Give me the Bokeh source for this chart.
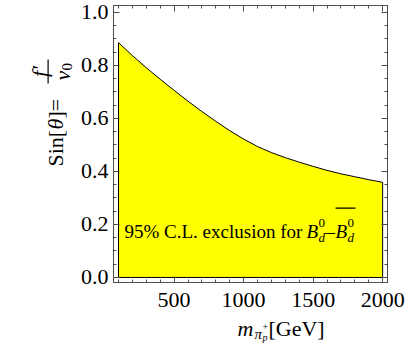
import math
from bokeh.plotting import figure
from bokeh.layouts import row, column
from bokeh.models import (Label, BoxAnnotation, LinearAxis, FixedTicker,
                          PrintfTickFormatter, Range1d)
from bokeh.embed import file_html
from bokeh.resources import INLINE

# ---- data ----
mass = [100, 200, 300, 400, 500, 600, 700, 800, 900, 1000,
        1100, 1200, 1300, 1400, 1500, 1600, 1700, 1800, 1900, 2000]
sin_theta = [0.886, 0.837, 0.791, 0.748, 0.706, 0.665, 0.626, 0.589, 0.554, 0.522,
             0.494, 0.471, 0.452, 0.435, 0.419, 0.404, 0.391, 0.380, 0.369, 0.359]
x_major = [500, 1000, 1500, 2000]
x_minor = list(range(100, 2001, 100))
y_major = [0.0, 0.2, 0.4, 0.6, 0.8, 1.0]
y_minor = [round(i * 0.05, 2) for i in range(0, 21)]

X0, X1 = 64, 2035
Y0, Y1 = -0.019, 1.026
FONT = "Liberation Serif"
FRAME = "#4d4d4d"
W, H = 411, 344
YW = 77          # width of the strip holding the y title
XH = 26          # layout height taken by the x-title strip
XO = 14          # the x-title strip overlaps the plot by this much
FL, FR, FT, FB = 111, 387, 5, 282   # frame edges in page pixels
PW, PH = W - YW, H - XH

p = figure(width=PW, height=PH, x_range=Range1d(X0, X1), y_range=Range1d(Y0, Y1),
           output_backend="svg", toolbar_location=None,
           min_border_left=FL - YW, min_border_right=W - FR, min_border_top=FT,
           min_border_bottom=PH - FB)
p.grid.visible = False
p.outline_line_color = FRAME
p.background_fill_color = "white"

# exclusion region
poly_x = [mass[0]] + mass + [mass[-1]]
poly_y = [0.0] + sin_theta + [0.0]
p.patch(poly_x, poly_y, fill_color="#FFFF00", line_color="black", line_width=1)


def style_axis(ax, ticks, minor, show_labels):
    ax.ticker = FixedTicker(ticks=ticks, minor_ticks=minor)
    ax.major_tick_in = 6
    ax.major_tick_out = 0
    ax.minor_tick_in = 3
    ax.minor_tick_out = 0
    ax.axis_line_color = FRAME
    ax.major_tick_line_color = FRAME
    ax.minor_tick_line_color = FRAME
    ax.axis_label = None
    if show_labels:
        ax.major_label_text_font = FONT
        ax.major_label_text_font_size = "22px"
        ax.major_label_text_color = "black"
    else:
        ax.major_label_overrides = {t: "" for t in ticks}
        ax.major_label_text_font_size = "1px"
        ax.major_label_standoff = 0


style_axis(p.xaxis[0], x_major, x_minor, True)
p.xaxis[0].major_label_standoff = 10
style_axis(p.yaxis[0], y_major, y_minor, True)
p.yaxis[0].major_label_standoff = 5
p.yaxis[0].formatter = PrintfTickFormatter(format="%.1f")

top = LinearAxis()
style_axis(top, x_major, x_minor, False)
p.add_layout(top, "above")
right = LinearAxis()
style_axis(right, y_major, y_minor, False)
p.add_layout(right, "right")


def strip(w, h, **kw):
    f = figure(width=w, height=h, x_range=Range1d(0, 1), y_range=Range1d(0, 1),
               output_backend="svg", toolbar_location=None, min_border=0,
               x_axis_type=None, y_axis_type=None, **kw)
    f.grid.visible = False
    f.outline_line_color = None
    f.background_fill_alpha = 0
    f.border_fill_alpha = 0
    return f


yfig = strip(YW, PH)                                   # page x 0..YW, y 0..PH
xfig = strip(W, XH + XO, margin=(-XO, 0, 0, 0))        # page x 0..W, y PH-XO..H


# text pieces: page pixel (X = left, Y = baseline) -> screen units of the target
def txt(target, ox, oy_bottom, s, X, Y, size, italic=False, angle=0.0, align="left"):
    target.add_layout(Label(x=X - ox, y=oy_bottom - Y, x_units="screen", y_units="screen",
                            text=s, text_font=FONT, text_font_size=f"{size}px",
                            text_font_style="italic" if italic else "normal",
                            angle=angle, text_align=align, text_baseline="alphabetic",
                            text_color="black"))


def bar(target, ox, oy_bottom, Xl, Xr, Yt, Yb):
    target.add_layout(BoxAnnotation(left=Xl - ox, right=Xr - ox, top=oy_bottom - Yt,
                                    bottom=oy_bottom - Yb,
                                    left_units="screen", right_units="screen",
                                    top_units="screen", bottom_units="screen",
                                    fill_color="black", fill_alpha=1, line_color=None))


def ptxt(*a, **k):
    txt(p, FL, FB, *a, **k)


def xtxt(*a, **k):
    txt(xfig, 0, H, *a, **k)


def ytxt(*a, **k):
    txt(yfig, 0, PH, *a, **k)


# label inside the region
ptxt("95% C.L. exclusion for", 122, 231, 19)
ptxt("B", 304, 231, 19, italic=True)
ptxt("0", 316, 222, 13)
ptxt("d", 316, 237, 13, italic=True)
ptxt("\u2013", 323, 231, 19)
ptxt("B", 333, 231, 19, italic=True)
ptxt("0", 345, 222, 13)
ptxt("d", 345, 237, 13, italic=True)
bar(p, FL, FB, 333, 353, 207, 208.2)

# x axis title
xtxt("m", 237, 328, 22, italic=True)
xtxt("\u03c0", 254, 333, 15, italic=True)
xtxt("+", 262, 326, 10)
xtxt("p", 262, 337, 10, italic=True)
xtxt("[GeV]", 268, 328, 22)

# y axis title (rotated)
A = math.pi / 2
ytxt("Sin[", 55, 202, 22, angle=A)
ytxt("\u03b8", 55, 165, 22, italic=True, angle=A)
ytxt("]=", 55, 154, 22, angle=A)
ytxt("f\u2032", 39, 107, 22, italic=True, angle=A, align="center")
bar(yfig, 0, PH, 47, 48.2, 95, 119)
ytxt("v", 62, 116, 22, italic=True, angle=A)
ytxt("0", 66, 106, 15, angle=A)

layout = column(row(yfig, p, spacing=0), xfig, spacing=0)
open("out.html", "w").write(file_html(layout, INLINE))
